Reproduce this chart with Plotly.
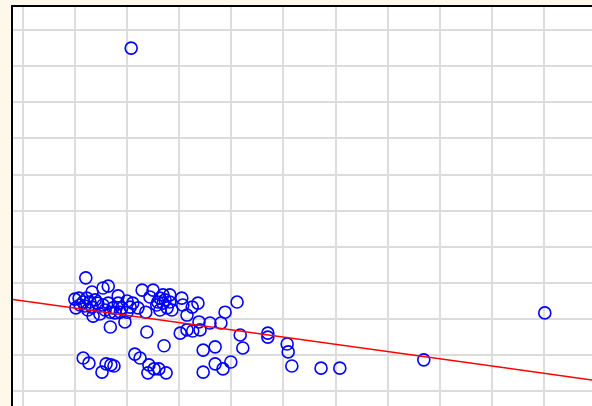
import plotly.graph_objects as go

x_vals = [2.08, 10.01, 7.69, 1.21, 1.33, 1.54, 1.64, 1.83, 1.00, 1.08, 1.02, 1.16, 1.23, 1.29, 1.39, 1.44,
          1.25, 1.35, 1.48, 1.54, 1.64, 1.73, 1.83, 1.90, 2.00, 2.06, 2.11, 2.21, 1.77, 2.00, 1.10, 1.19,
          1.33, 1.58, 1.68, 1.87, 1.68, 1.96, 2.36, 2.29, 2.44, 2.50, 2.57, 2.63, 2.69, 2.77, 2.82, 2.69,
          2.82, 2.63, 2.73, 2.86, 2.59, 3.05, 3.07, 3.25, 3.36, 3.15, 2.38, 3.02, 3.15, 3.26, 3.38, 3.40,
          3.59, 3.80, 3.88, 4.11, 4.17, 4.22, 3.46, 3.69, 4.70, 4.70, 5.07, 5.09, 5.16, 5.72, 6.08, 2.71,
          1.16, 1.27, 1.52, 1.60, 1.69, 1.75, 2.15, 2.25, 2.42, 2.40, 2.52, 2.61, 2.75, 3.46, 3.69, 3.84,
          3.99]
y_vals = [9.50, 2.17, 0.87, 3.14, 2.75, 2.86, 2.91, 2.64, 2.55, 2.58, 2.31, 2.47, 2.58, 2.47, 2.53, 2.44,
          2.25, 2.08, 2.14, 2.39, 2.44, 2.31, 2.44, 2.31, 2.50, 2.33, 2.44, 2.31, 2.17, 2.19, 2.39, 2.36,
          2.33, 2.25, 2.19, 2.19, 1.78, 1.92, 2.19, 2.80, 2.61, 2.80, 2.39, 2.25, 2.44, 2.31, 2.47, 2.67,
          2.67, 2.58, 2.53, 2.25, 2.47, 2.58, 2.39, 2.33, 2.44, 2.11, 1.64, 1.61, 1.70, 1.67, 1.92, 1.70,
          1.89, 1.89, 2.19, 2.47, 1.56, 1.20, 1.14, 1.23, 1.61, 1.50, 1.31, 1.09, 0.70, 0.64, 0.64, 1.26,
          0.92, 0.78, 0.53, 0.76, 0.73, 0.70, 1.03, 0.92, 0.73, 0.51, 0.62, 0.62, 0.51, 0.53, 0.76, 0.62,
          0.81]

fit_intercept = 2.505
fit_slope = -0.2008

x_range = [-0.186, 10.915]
y_range = [-0.407, 10.637]

line_x = x_range
line_y = [fit_intercept + fit_slope * v for v in line_x]

fig = go.Figure()
fig.add_trace(go.Scatter(
    x=x_vals, y=y_vals, mode="markers",
    marker=dict(symbol="circle-open", size=12, color="#0000ff", line=dict(width=1.6, color="#0000ff")),
    showlegend=False, cliponaxis=True,
))
fig.add_trace(go.Scatter(
    x=line_x, y=line_y, mode="lines",
    line=dict(color="#ff0000", width=1.5),
    showlegend=False,
))

fig.update_layout(
    width=592, height=406,
    margin=dict(l=13, r=0, t=7, b=0),
    paper_bgcolor="#fdf8ea",
    plot_bgcolor="#ffffff",
    xaxis=dict(range=x_range, side="top", showline=True, linecolor="#000000", linewidth=1.5,
               showgrid=True, gridcolor="#dcdcdc", gridwidth=1.5, dtick=1, tick0=0,
               zeroline=False, showticklabels=False, ticks=""),
    yaxis=dict(range=y_range, showline=True, linecolor="#000000", linewidth=1.5,
               showgrid=True, gridcolor="#dcdcdc", gridwidth=1.5, dtick=1, tick0=0,
               zeroline=False, showticklabels=False, ticks=""),
)

fig.write_html(
    "out.html",
    config={"displayModeBar": False},
    post_script="document.documentElement.style.margin='0';document.documentElement.style.overflow='hidden';"
                "document.body.style.margin='0';document.body.style.padding='0';document.body.style.overflow='hidden';",
)
